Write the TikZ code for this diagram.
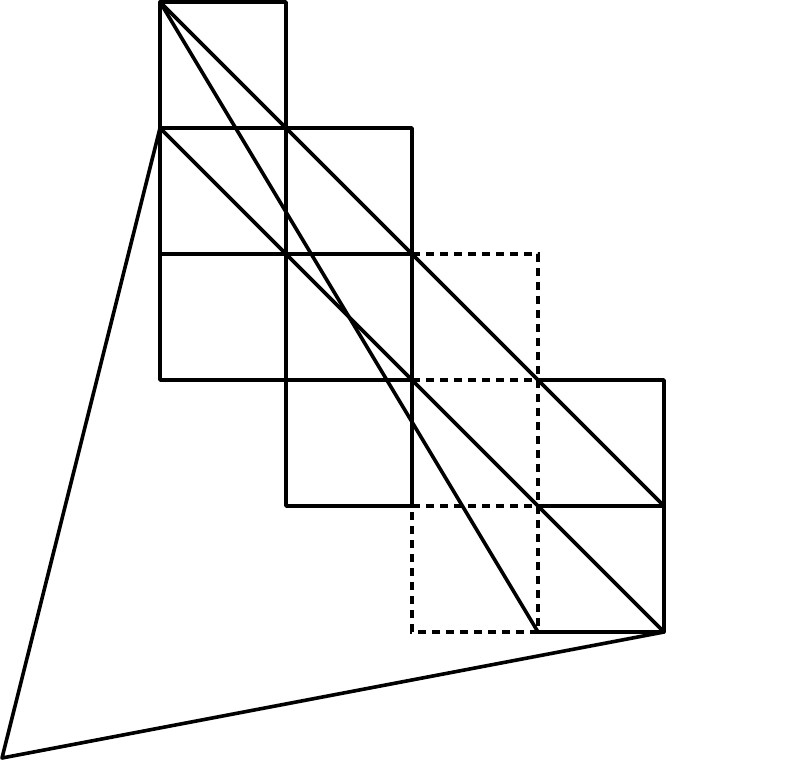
\documentclass[tikz,border=0pt]{standalone}
\begin{document}
\begin{tikzpicture}[x=1pt,y=-1pt,
  solidline/.style={line width=3.6pt,line cap=round,line join=round},
  dashline/.style={line width=3.6pt,dash pattern=on 8pt off 6pt}]
\useasboundingbox (0,0) rectangle (794,762);
% grid coordinates
\foreach \i/\x in {0/160,1/286,2/412,3/538,4/664}{
  \foreach \j/\y in {0/2,1/128,2/254,3/380,4/506,5/632}{
    \coordinate (p\i\j) at (\x,\y);
  }
}
\coordinate (apex) at (2,758);
% dashed parts
\draw[dashline] (p22) -- (p32) -- (p35) -- (p25) -- (p24);
\draw[dashline] (p23) -- (p33);
\draw[dashline] (p24) -- (p34);
% solid squares
\draw[solidline] (p00) rectangle (p11);
\draw[solidline] (p01) rectangle (p12);
\draw[solidline] (p11) rectangle (p22);
\draw[solidline] (p02) rectangle (p13);
\draw[solidline] (p12) rectangle (p23);
\draw[solidline] (p13) rectangle (p24);
\draw[solidline] (p33) -- (p43) -- (p45) -- (p35);
\draw[solidline] (p34) -- (p44);
% diagonals
\draw[solidline] (p00) -- (p44);
\draw[solidline] (p00) -- (p35);
\draw[solidline] (p01) -- (p45);
% big triangle
\draw[solidline] (p01) -- (apex) -- (p45);
\end{tikzpicture}
\end{document}
